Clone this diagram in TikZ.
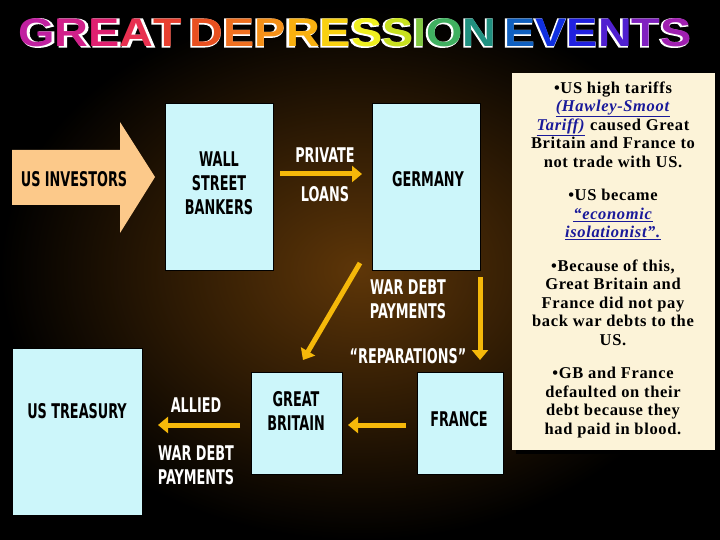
\documentclass[tikz,border=0pt]{standalone}
\usepackage{fontspec}
\usepackage{graphicx}
\setmainfont{Liberation Serif}[LetterSpace=4]
\newfontfamily\lblfont{DejaVu Sans Condensed}
\newfontfamily\ttlfont{Liberation Sans}
\newfontfamily\ttloutline{Liberation Sans}[FakeBold=4]
\definecolor{bgbrown}{HTML}{5E3608}
\definecolor{boxblue}{HTML}{CCF6FA}
\definecolor{arrowyel}{HTML}{F5B80A}
\definecolor{invtan}{HTML}{FCC98A}
\definecolor{panelcream}{HTML}{FCF3D8}
\definecolor{linkblue}{HTML}{1A1A9A}
\newcommand{\tall}[1]{\scalebox{0.95}[1.35]{#1}}
\newcommand{\lk}[1]{\textcolor{linkblue}{\underline{\textit{#1}}}}
\newcommand{\tl}[2]{\textcolor[HTML]{#1}{#2}}
\newcommand{\ttltext}{\tl{C020A0}{G}\tl{D0208A}{R}\tl{E02070}{E}\tl{E83050}{A}\tl{E84030}{T}\,%
\tl{E85020}{D}\tl{F07020}{E}\tl{F59018}{P}\tl{F8B010}{R}\tl{F8D010}{E}\tl{F0F020}{S}\tl{C8E020}{S}\tl{80C840}{I}\tl{40B060}{O}\tl{209080}{N}\,%
\tl{1060C0}{E}\tl{1030E0}{V}\tl{2020E0}{E}\tl{5020D0}{N}\tl{8020C0}{T}\tl{A020B0}{S}}
\usetikzlibrary{arrows.meta}
\tikzset{
  bluebox/.style={fill=boxblue, draw=black, line width=0.6pt},
  lbl/.style={text=white, font=\lblfont\bfseries\fontsize{15}{24}\selectfont, align=center},
  boxlbl/.style={lbl, text=black},
  flow/.style={arrowyel, line width=5pt, -{Triangle[length=10pt,width=16pt]}},
  ttl/.style={xscale=1.17, yscale=1.0, inner sep=0pt},
  para/.style={anchor=north, align=center, font=\bfseries\fontsize{16.5}{18.5}\selectfont}
}
\begin{document}
\begin{tikzpicture}[x=1pt,y=-1pt]
\useasboundingbox (0,0) rectangle (720,540);
\shade[inner color=bgbrown, outer color=black] (0,0) rectangle (720,540);
\fill[black, opacity=0.6] (0,0) rectangle (720,40);
% title
\node (titleline) [ttl, font=\ttloutline\bfseries\fontsize{40}{40}\selectfont, text=white] at (355,33) {GREAT\,DEPRESSION\,EVENTS};
\node (title) [ttl, font=\ttlfont\bfseries\fontsize{40}{40}\selectfont] at (355,33) {\ttltext};
% boxes
\draw[bluebox] (165,103) rectangle (273,270);
\draw[bluebox] (372,103) rectangle (480,270);
\draw[bluebox] (12,348) rectangle (142,515);
\draw[bluebox] (251,372) rectangle (342,474);
\draw[bluebox] (417,372) rectangle (503,474);
\node (wall) [boxlbl] at (219,183) {\tall{WALL}\\\tall{STREET}\\\tall{BANKERS}};
\node (germany) [boxlbl] at (428,179) {\tall{GERMANY}};
\node (treasury) [boxlbl] at (77,411) {\tall{US TREASURY}};
\node (britain) [boxlbl] at (296,411) {\tall{GREAT}\\\tall{BRITAIN}};
\node (france) [boxlbl] at (459,419) {\tall{FRANCE}};
% investors arrow
\fill[invtan] (12,150) -- (120,150) -- (120,122) -- (155,177) -- (120,233) -- (120,205) -- (12,205) -- cycle;
\node (investors) [boxlbl] at (74,179) {\tall{US INVESTORS}};
% flows
\coordinate (pl1) at (280,174); \coordinate (pl2) at (362,174);
\draw[flow] (pl1) -- (pl2);
\node (private) [lbl] at (325,155) {\tall{PRIVATE}};
\node (loans) [lbl] at (325,194) {\tall{LOANS}};
\coordinate (wd1) at (360,263); \coordinate (wd2) at (303,360);
\draw[flow] (wd1) -- (wd2);
\node (wardebt) [lbl] at (408,299) {\tall{WAR DEBT}\\\tall{PAYMENTS}};
\coordinate (rp1) at (480,277); \coordinate (rp2) at (480,360);
\draw[flow] (rp1) -- (rp2);
\node (repar) [lbl] at (408,356) {\tall{“REPARATIONS”}};
\coordinate (fb1) at (406,425); \coordinate (fb2) at (348,425);
\draw[flow] (fb1) -- (fb2);
\coordinate (gt1) at (240,425); \coordinate (gt2) at (158,425);
\draw[flow] (gt1) -- (gt2);
\node (allied) [lbl] at (196,405) {\tall{ALLIED}};
\node (alliedwd) [lbl] at (196,465) {\tall{WAR DEBT}\\\tall{PAYMENTS}};
% panel
\fill[black] (516,77) rectangle (719,454);
\fill[panelcream] (512,73) rectangle (715,450);
\node (p1) [para] at (613,78) {•US high tariffs\\\lk{(Hawley-Smoot}\\\lk{Tariff)} caused Great\\Britain and France to\\not trade with US.};
\node (p2) [para] at (613,186) {•US became\\\lk{“economic}\\\lk{isolationist”.}};
\node (p3) [para] at (613,256) {•Because of this,\\Great Britain and\\France did not pay\\back war debts to the\\US.};
\node (p4) [para] at (613,364) {•GB and France\\defaulted on their\\debt because they\\had paid in blood.};
\end{tikzpicture}
\end{document}
